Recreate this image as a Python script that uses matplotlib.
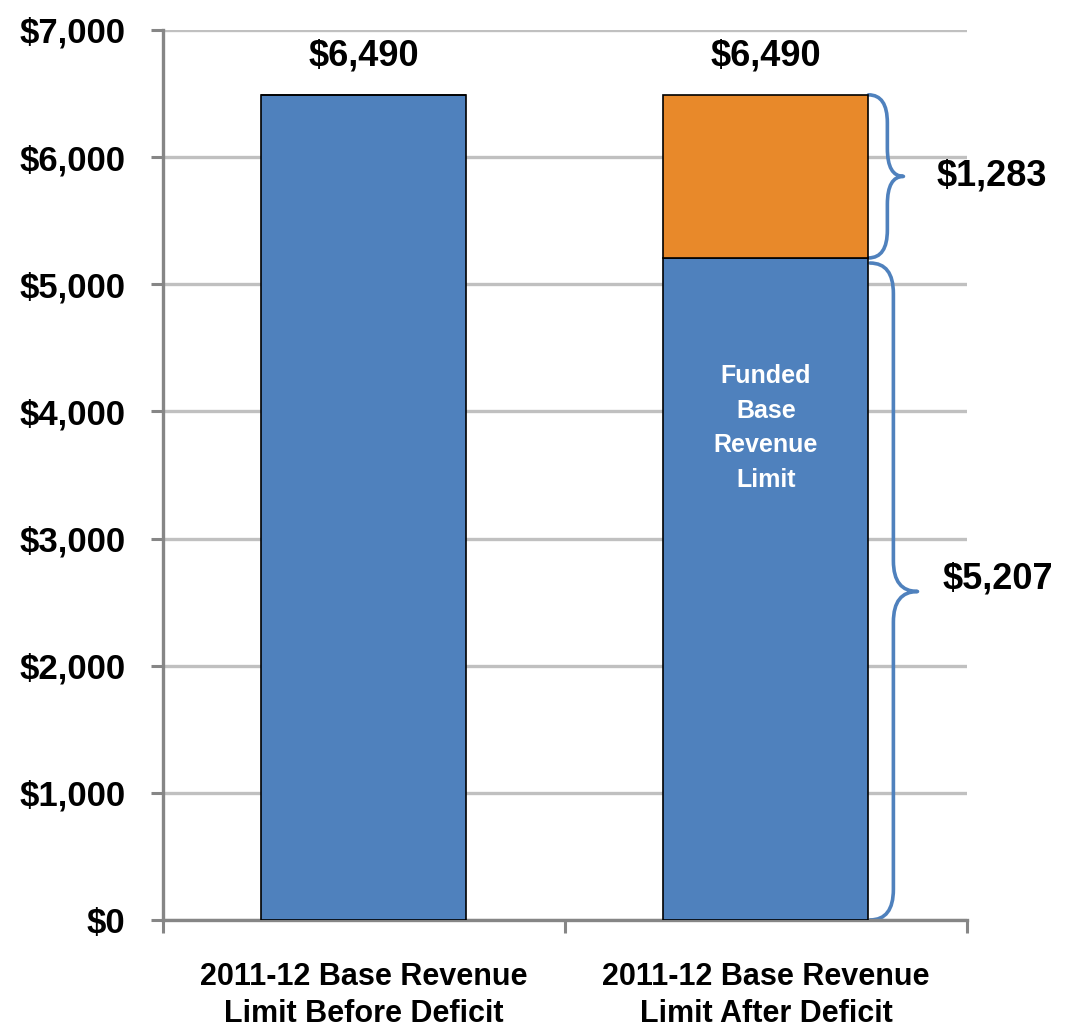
import matplotlib
matplotlib.use("Agg")
import matplotlib.pyplot as plt
from matplotlib.path import Path
from matplotlib.patches import PathPatch

# Data (dollars per ADA)
categories = ["2011-12 Base Revenue\nLimit Before Deficit",
              "2011-12 Base Revenue\nLimit After Deficit"]
funded = [6490, 5207]        # blue part
deficit = [0, 1283]          # orange part (deficit factor)
totals = [6490, 6490]
yticks = [0, 1000, 2000, 3000, 4000, 5000, 6000, 7000]

BLUE = "#4f81bd"
ORANGE = "#e8892a"
GRID = "#c0c0c0"
AXIS = "#868686"

BOLD = dict(family="Liberation Sans", fontweight="bold")


def brace(ax, x0, xs, xt, y_top, y_bot, r, **kw):
    """ Curly brace from (x0, y_top) to (x0, y_bot) with its point at xt. """
    ym = 0.5 * (y_top + y_bot)
    verts = [(x0, y_top), (xs, y_top), (xs, y_top - r),
             (xs, ym + r),
             (xs, ym), (xt, ym),
             (xs, ym), (xs, ym - r),
             (xs, y_bot + r),
             (xs, y_bot), (x0, y_bot)]
    codes = [Path.MOVETO, Path.CURVE3, Path.CURVE3,
             Path.LINETO,
             Path.CURVE3, Path.CURVE3,
             Path.CURVE3, Path.CURVE3,
             Path.LINETO,
             Path.CURVE3, Path.CURVE3]
    ax.add_patch(PathPatch(Path(verts, codes), fill=False, clip_on=False,
                           capstyle="round", joinstyle="round", **kw))


fig = plt.figure(figsize=(10.7, 10.34), dpi=100)
ax = fig.add_axes([0.1523, 0.1103, 0.7514, 0.8607])

x = list(range(len(categories)))
width = 0.51
ax.bar(x, funded, width, color=BLUE, edgecolor="black", linewidth=1.2, zorder=3)
ax.bar(x, deficit, width, bottom=funded, color=ORANGE, edgecolor="black",
       linewidth=1.2, zorder=3)

ax.set_xlim(-0.5, 1.5)
ax.set_ylim(0, 7000)
ax.set_yticks(yticks)
ax.set_yticklabels(["$" + format(v, ",") for v in yticks], fontsize=25, **BOLD)
ax.set_xticks(x)
ax.set_xticklabels(categories, fontsize=22, linespacing=1.3, **BOLD)
ax.set_xticks([-0.5, 0.5, 1.5], minor=True)
ax.tick_params(axis="x", which="major", length=0, pad=30)
ax.tick_params(axis="x", which="minor", length=9, width=2.2, color=AXIS)
ax.tick_params(axis="y", length=9, width=2.2, color=AXIS, pad=18)

ax.grid(axis="y", color=GRID, linewidth=2.4)
ax.set_axisbelow(True)
for s in ["top", "right"]:
    ax.spines[s].set_visible(False)
for s in ["left", "bottom"]:
    ax.spines[s].set_color(AXIS)
    ax.spines[s].set_linewidth(2.4)

# totals above the bars
for xi, t in zip(x, totals):
    ax.annotate("$" + format(t, ","), (xi, t), xytext=(0, 28),
                textcoords="offset points", ha="center", va="center",
                fontsize=26, **BOLD)

# label inside the funded part
ax.text(x[1], 3870, "Funded\nBase\nRevenue\nLimit", color="white", ha="center",
        va="center", fontsize=18, linespacing=1.55, zorder=4, **BOLD)

# braces with segment values
edge = x[1] + width / 2
brace(ax, edge, edge + 0.047, edge + 0.087, totals[1], funded[1], 220,
      edgecolor=BLUE, linewidth=2.6)
brace(ax, edge + 0.004, edge + 0.062, edge + 0.122, funded[1] - 40, 0, 240,
      edgecolor=BLUE, linewidth=2.6)
ax.text(edge + 0.17, funded[1] + deficit[1] / 2, "$" + format(deficit[1], ","),
        ha="left", va="center", fontsize=26, **BOLD)
ax.text(edge + 0.185, funded[1] / 2 + 80, "$" + format(funded[1], ","),
        ha="left", va="center", fontsize=26, **BOLD)

fig.savefig("out.png", dpi=100)
